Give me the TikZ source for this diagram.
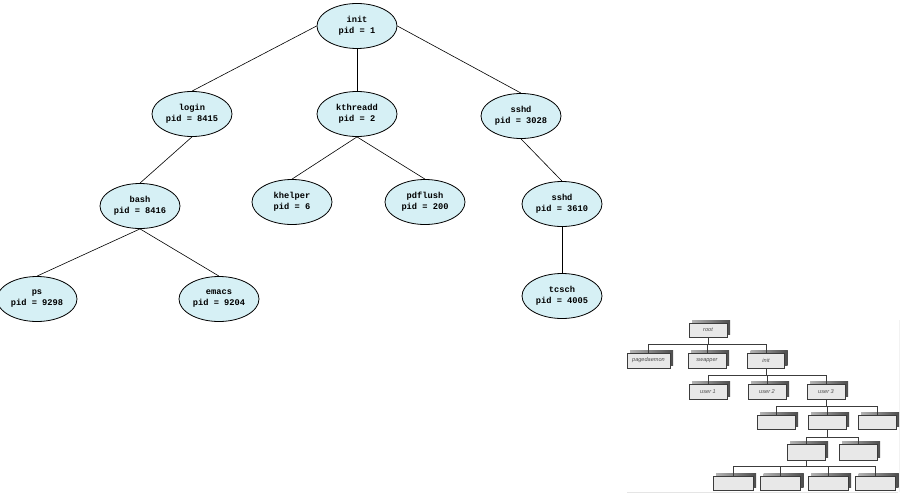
\documentclass[tikz,border=0pt]{standalone}
\usepackage{fontspec}
\setmainfont{Liberation Serif}
\setmonofont{Liberation Mono}
\newfontfamily\treesans{Liberation Sans}
\usetikzlibrary{shapes.geometric,shadows}
\definecolor{procfill}{RGB}{214,240,245}
\definecolor{boxfill}{RGB}{232,232,232}
\definecolor{boxline}{RGB}{60,60,60}
\begin{document}
\begin{tikzpicture}[x=1pt,y=-1pt,
  proc/.style={ellipse, draw=black, line width=0.8pt, fill=procfill,
    minimum width=80pt, minimum height=45pt, inner sep=0pt, align=center,
    font=\ttfamily\bfseries\fontsize{8.7}{11}\selectfont},
  link/.style={draw=black, line width=0.6pt},
  tbox/.style={draw=boxline, fill=boxfill, line width=0.6pt,
    minimum width=38pt, minimum height=14pt, inner sep=0pt,
    font=\treesans\itshape\fontsize{5.6}{6}\selectfont, text=black!70,
    drop shadow={shadow xshift=3pt, shadow yshift=3pt, left color=black!30, right color=black!70, opacity=1}},
  bus/.style={draw=boxline, line width=0.8pt}]
\useasboundingbox (0,0) rectangle (911,503);
% big process tree
\node[proc] (init) at (357,26) {init\\pid = 1};
\node[proc] (login) at (192,114) {login\\pid = 8415};
\node[proc] (kthr) at (357,114) {kthreadd\\pid = 2};
\node[proc] (sshdA) at (521,116) {sshd\\pid = 3028};
\node[proc] (bash) at (140,206) {bash\\pid = 8416};
\node[proc] (khelp) at (292,202) {khelper\\pid = 6};
\node[proc] (pdfl) at (425,202) {pdflush\\pid = 200};
\node[proc] (sshdB) at (562,204) {sshd\\pid = 3610};
\node[proc] (ps) at (37,299) {ps\\pid = 9298};
\node[proc] (emacs) at (219,299) {emacs\\pid = 9204};
\node[proc] (tcsch) at (562,296) {tcsch\\pid = 4005};
\draw[link] (init.west) -- (login.north);
\draw[link] (init.south) -- (kthr.north);
\draw[link] (init.east) -- (sshdA.north);
\draw[link] (login.south) -- (bash.north);
\draw[link] (kthr.south) -- (khelp.north);
\draw[link] (kthr.south) -- (pdfl.north);
\draw[link] (sshdA.south) -- (sshdB.north);
\draw[link] (bash.south) -- (ps.north);
\draw[link] (bash.south) -- (emacs.north);
\draw[link] (sshdB.south) -- (tcsch.north);
% small tree
\draw[black!10, line width=0.5pt] (627,492) -- (898,492);
\draw[black!5, line width=0.5pt] (899,320) -- (899,492);
\node[tbox] (root) at (708,330) {root};
\node[tbox, minimum width=43pt, minimum height=15pt] (pd) at (648.5,360.5) {pagedaemon};
\node[tbox, minimum height=15pt] (sw) at (707,360.5) {swapper};
\node[tbox, minimum width=37pt, minimum height=15pt] (in) at (766,360.5) {init};
\node[tbox, minimum height=15pt] (u1) at (708,391.5) {user 1};
\node[tbox, minimum height=15pt] (u2) at (767,391.5) {user 2};
\node[tbox, minimum height=15pt] (u3) at (826,391.5) {user 3};
\node[tbox] (ra) at (776,422) {};
\node[tbox] (rb) at (827,422) {};
\node[tbox] (rc) at (877,422) {};
\node[tbox, minimum height=16pt] (qa) at (806,452) {};
\node[tbox, minimum height=16pt] (qb) at (858,452) {};
\node[tbox, minimum width=40pt] (sa) at (733,483) {};
\node[tbox, minimum width=40pt] (sb) at (780.5,483) {};
\node[tbox, minimum width=40pt] (sc) at (828,483) {};
\node[tbox, minimum width=40pt] (sd) at (875.5,483) {};
\foreach \c in {pd,sw,in} \draw[bus] (root.south) -- ++(0,7) -| (\c.north);
\foreach \c in {u1,u2,u3} \draw[bus] (in.south) -- ++(0,7) -| (\c.north);
\foreach \c in {ra,rb,rc} \draw[bus] (u3.south) -- ++(0,7) -| (\c.north);
\foreach \c in {qa,qb} \draw[bus] (rb.south) -- ++(0,8) -| (\c.north);
\foreach \c in {sa,sb,sc,sd} \draw[bus] (qa.south) -- ++(0,6) -| (\c.north);
\end{tikzpicture}
\end{document}
